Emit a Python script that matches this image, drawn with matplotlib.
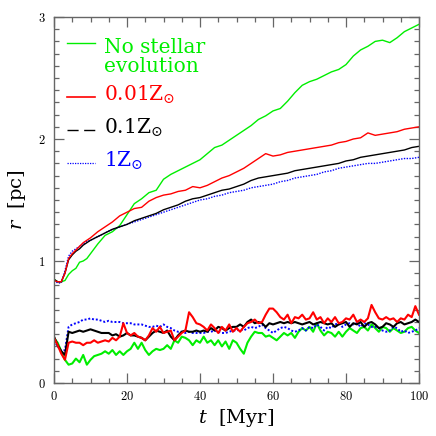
import matplotlib
matplotlib.use('Agg')
import matplotlib.pyplot as plt
from matplotlib.ticker import MultipleLocator, FuncFormatter

plt.rcParams['mathtext.fontset'] = 'cm'
plt.rcParams['font.family'] = ['DejaVu Serif']

# time grid of the upper (outer radius) curves, Myr
t_up = [0, 1, 2, 3, 4, 5, 6, 7, 8, 9] + list(range(10, 101, 2))

r_up_none = [0.85, 0.83, 0.83, 0.84, 0.89, 0.92, 0.94, 0.99, 1.00, 1.02,
             1.06, 1.14, 1.21, 1.24, 1.29, 1.38, 1.47, 1.51, 1.56, 1.58,
             1.67, 1.71, 1.74, 1.77, 1.80, 1.83, 1.88, 1.93, 1.95, 1.99,
             2.03, 2.07, 2.11, 2.16, 2.19, 2.23, 2.25, 2.31, 2.38, 2.44,
             2.47, 2.49, 2.52, 2.55, 2.57, 2.61, 2.68, 2.73, 2.76, 2.80,
             2.81, 2.79, 2.83, 2.88, 2.91, 2.94]
r_up_001 = [0.84, 0.83, 0.83, 0.90, 1.02, 1.06, 1.09, 1.12, 1.15, 1.17,
            1.19, 1.24, 1.28, 1.32, 1.37, 1.40, 1.43, 1.44, 1.49, 1.52,
            1.54, 1.55, 1.57, 1.58, 1.61, 1.60, 1.62, 1.65, 1.68, 1.70,
            1.73, 1.76, 1.80, 1.84, 1.88, 1.86, 1.87, 1.89, 1.90, 1.91,
            1.92, 1.93, 1.94, 1.95, 1.97, 1.98, 2.00, 2.01, 2.05, 2.03,
            2.04, 2.05, 2.06, 2.08, 2.09, 2.10]
r_up_01 = [0.85, 0.83, 0.83, 0.90, 1.01, 1.05, 1.08, 1.10, 1.13, 1.15,
           1.17, 1.20, 1.23, 1.26, 1.28, 1.30, 1.33, 1.35, 1.37, 1.39,
           1.42, 1.44, 1.46, 1.49, 1.51, 1.52, 1.54, 1.56, 1.58, 1.59,
           1.61, 1.63, 1.66, 1.68, 1.69, 1.70, 1.71, 1.72, 1.74, 1.75,
           1.76, 1.77, 1.78, 1.79, 1.80, 1.82, 1.83, 1.85, 1.86, 1.87,
           1.88, 1.89, 1.90, 1.91, 1.93, 1.94]
r_up_1 = [0.84, 0.82, 0.82, 0.92, 1.04, 1.08, 1.10, 1.12, 1.14, 1.16,
          1.17, 1.20, 1.23, 1.26, 1.28, 1.30, 1.32, 1.34, 1.36, 1.38,
          1.40, 1.42, 1.44, 1.46, 1.48, 1.50, 1.51, 1.53, 1.54, 1.56,
          1.57, 1.58, 1.60, 1.61, 1.62, 1.63, 1.65, 1.66, 1.68, 1.69,
          1.70, 1.71, 1.73, 1.74, 1.76, 1.77, 1.78, 1.79, 1.80, 1.80,
          1.81, 1.82, 1.83, 1.84, 1.84, 1.85]

# time grid of the lower (core radius) curves, Myr
t_low = list(range(0, 101))

r_low_none = [0.37, 0.33, 0.26, 0.19, 0.15, 0.16, 0.20, 0.17, 0.23, 0.15,
              0.19, 0.22, 0.23, 0.24, 0.26, 0.24, 0.27, 0.23, 0.26, 0.23,
              0.26, 0.28, 0.33, 0.28, 0.33, 0.27, 0.23, 0.26, 0.28, 0.27,
              0.28, 0.31, 0.28, 0.35, 0.33, 0.38, 0.37, 0.35, 0.31, 0.35,
              0.33, 0.38, 0.33, 0.35, 0.31, 0.35, 0.30, 0.34, 0.28, 0.35,
              0.33, 0.28, 0.24, 0.33, 0.38, 0.42, 0.41, 0.41, 0.38, 0.39,
              0.37, 0.35, 0.38, 0.41, 0.39, 0.41, 0.37, 0.42, 0.45, 0.43,
              0.46, 0.42, 0.49, 0.43, 0.39, 0.42, 0.41, 0.38, 0.42, 0.38,
              0.42, 0.45, 0.43, 0.41, 0.45, 0.46, 0.43, 0.48, 0.45, 0.42,
              0.46, 0.45, 0.42, 0.45, 0.43, 0.41, 0.42, 0.45, 0.46, 0.43,
              0.41]
r_low_001 = [0.37, 0.31, 0.24, 0.19, 0.33, 0.34, 0.33, 0.33, 0.31, 0.33,
             0.33, 0.35, 0.33, 0.34, 0.35, 0.34, 0.37, 0.35, 0.38, 0.49,
             0.41, 0.39, 0.41, 0.38, 0.37, 0.35, 0.39, 0.45, 0.42, 0.46,
             0.41, 0.42, 0.43, 0.35, 0.38, 0.41, 0.43, 0.58, 0.54, 0.49,
             0.48, 0.46, 0.43, 0.48, 0.45, 0.41, 0.46, 0.43, 0.48, 0.42,
             0.45, 0.42, 0.46, 0.49, 0.50, 0.52, 0.49, 0.50, 0.56, 0.61,
             0.61, 0.58, 0.54, 0.52, 0.56, 0.49, 0.54, 0.53, 0.56, 0.52,
             0.53, 0.58, 0.52, 0.54, 0.49, 0.53, 0.50, 0.54, 0.49, 0.50,
             0.53, 0.52, 0.56, 0.50, 0.52, 0.50, 0.53, 0.64, 0.58, 0.53,
             0.52, 0.54, 0.52, 0.53, 0.50, 0.53, 0.52, 0.56, 0.54, 0.63,
             0.56]
r_low_01 = [0.38, 0.31, 0.26, 0.23, 0.42, 0.41, 0.42, 0.43, 0.42, 0.43,
            0.44, 0.43, 0.42, 0.41, 0.41, 0.41, 0.39, 0.40, 0.38, 0.39,
            0.41, 0.39, 0.39, 0.38, 0.37, 0.35, 0.38, 0.41, 0.43, 0.42,
            0.41, 0.43, 0.38, 0.35, 0.39, 0.42, 0.43, 0.42, 0.42, 0.43,
            0.42, 0.43, 0.42, 0.45, 0.43, 0.46, 0.45, 0.43, 0.45, 0.46,
            0.46, 0.48, 0.46, 0.50, 0.52, 0.49, 0.50, 0.49, 0.46, 0.49,
            0.48, 0.49, 0.50, 0.49, 0.50, 0.49, 0.50, 0.49, 0.48, 0.49,
            0.50, 0.48, 0.49, 0.50, 0.49, 0.48, 0.49, 0.46, 0.48, 0.49,
            0.50, 0.46, 0.49, 0.48, 0.50, 0.46, 0.49, 0.50, 0.48, 0.45,
            0.46, 0.49, 0.48, 0.46, 0.49, 0.50, 0.48, 0.49, 0.50, 0.52,
            0.50]
r_low_1 = [0.35, 0.30, 0.26, 0.27, 0.46, 0.48, 0.49, 0.50, 0.52, 0.52,
           0.53, 0.52, 0.52, 0.51, 0.50, 0.51, 0.50, 0.50, 0.50, 0.49,
           0.49, 0.49, 0.48, 0.48, 0.48, 0.47, 0.46, 0.46, 0.47, 0.46,
           0.48, 0.46, 0.45, 0.43, 0.42, 0.42, 0.41, 0.42, 0.41, 0.41,
           0.41, 0.41, 0.42, 0.42, 0.43, 0.42, 0.41, 0.41, 0.42, 0.43,
           0.43, 0.44, 0.43, 0.45, 0.46, 0.45, 0.46, 0.48, 0.45, 0.43,
           0.41, 0.43, 0.45, 0.46, 0.45, 0.43, 0.42, 0.43, 0.45, 0.43,
           0.46, 0.45, 0.48, 0.46, 0.43, 0.46, 0.45, 0.48, 0.49, 0.46,
           0.48, 0.49, 0.48, 0.49, 0.46, 0.49, 0.48, 0.46, 0.46, 0.45,
           0.43, 0.42, 0.43, 0.46, 0.45, 0.42, 0.43, 0.41, 0.42, 0.43,
           0.45]

green = '#00ee00'
red = '#ff0000'
blue = '#0000ff'
black = '#000000'

fig = plt.figure(figsize=(4.36, 4.36), dpi=100)
ax = fig.add_axes([54 / 436, 53 / 436, 365 / 436, 366 / 436])

# green first, red on top
ax.plot(t_up, r_up_none, color=green, lw=1.0)
ax.plot(t_low, r_low_none, color=green, lw=1.5)
ax.plot(t_up, r_up_1, color=blue, lw=1.0, ls=(0, (1, 1)))
ax.plot(t_low, r_low_1, color=blue, lw=1.4, ls=(0, (1, 1)))
ax.plot(t_up, r_up_01, color=black, lw=1.0)
ax.plot(t_low, r_low_01, color=black, lw=1.5)
ax.plot(t_up, r_up_001, color=red, lw=1.0)
ax.plot(t_low, r_low_001, color=red, lw=1.5)

ax.set_xlim(0, 100)
ax.set_ylim(0, 3)
ax.xaxis.set_major_locator(MultipleLocator(20))
ax.xaxis.set_minor_locator(MultipleLocator(5))
ax.yaxis.set_major_locator(MultipleLocator(1))
ax.yaxis.set_minor_locator(MultipleLocator(0.1))
fmt = FuncFormatter(lambda v, p: r'$\mathrm{%d}$' % round(v))
ax.xaxis.set_major_formatter(fmt)
ax.yaxis.set_major_formatter(fmt)
ax.tick_params(which='both', direction='in', top=True, right=True,
               color='#666666', labelsize=9)
ax.tick_params(which='major', length=7, width=0.9)
ax.tick_params(which='minor', length=3.5, width=0.9)
ax.tick_params(axis='x', pad=5)
ax.tick_params(axis='y', pad=6)
for s in ax.spines.values():
    s.set_color('#666666')
    s.set_linewidth(1.0)

ax.set_xlabel(r'$t$  [Myr]', fontsize=14, labelpad=3,
              math_fontfamily='dejavuserif')
ax.set_ylabel(r'$r$  [pc]', fontsize=14, labelpad=7,
              math_fontfamily='dejavuserif')

# legend drawn by hand, in axes fractions
hx = [0.036, 0.112]
tx = 0.138
tr = ax.transAxes
kw = dict(fontsize=14.5, va='baseline', transform=tr,
          math_fontfamily='dejavuserif')
ax.plot(hx, [0.929, 0.929], color=green, lw=1.0, transform=tr)
ax.text(tx, 0.902, 'No stellar', color=green, **kw)
ax.text(tx, 0.851, 'evolution', color=green, **kw)
ax.plot(hx, [0.781, 0.781], color=red, lw=1.2, transform=tr)
ax.text(tx, 0.770, r'0.01Z$_{\odot}$', color=red, **kw)
ax.plot(hx, [0.691, 0.691], color=black, lw=1.0, ls=(0, (8, 4)), transform=tr)
ax.text(tx, 0.680, r'0.1Z$_{\odot}$', color=black, **kw)
ax.plot(hx, [0.601, 0.601], color=blue, lw=0.9, ls=(0, (1, 1)), transform=tr)
ax.text(tx, 0.590, r'1Z$_{\odot}$', color=blue, **kw)

fig.savefig('out.png', dpi=100)
